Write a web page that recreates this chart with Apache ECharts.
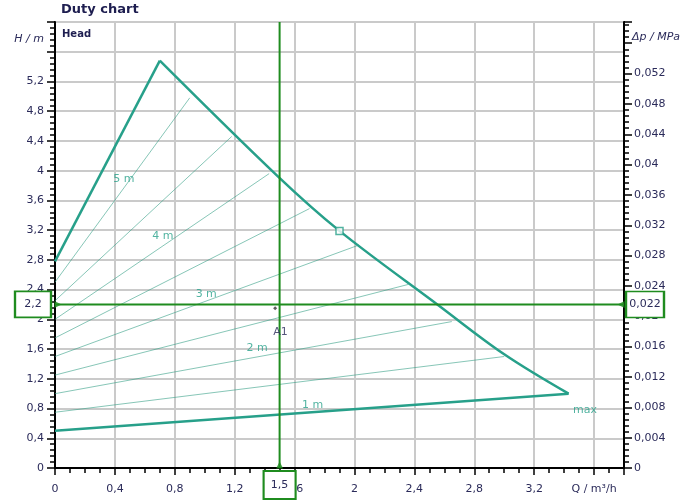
<!DOCTYPE html>
<html><head><meta charset="utf-8">
<script src="https://cdn.jsdelivr.net/npm/echarts@6/dist/echarts.min.js"></script>
<style>html,body{margin:0;padding:0;background:#fff}#c{width:687px;height:504px}</style>
</head><body><div id="c"></div>
<script>
// Max curve boundary (Q in m³/h, H in m)
const riseQ = [0, 0.70];
const riseH = [2.78, 5.48];
const fallQ = [0.70, 1.49, 1.90, 2.56, 3.00, 3.43];
const fallH = [5.48, 3.92, 3.19, 2.19, 1.53, 1.00];
const baseQ = [0, 3.43];
const baseH = [0.50, 1.00];
// thin set-point lines (start at Q = 0)
const setpointStartH = [0.75, 1.00, 1.25, 1.50, 1.75, 2.00, 2.25, 2.50];
const setpointEndQ   = [3.00, 2.65, 2.36, 2.03, 1.70, 1.43, 1.18, 0.90];
const setpointEndH   = [1.50, 1.97, 2.47, 3.00, 3.49, 3.96, 4.46, 4.98];
// curve labels
const curveLabels = ['5 m', '4 m', '3 m', '2 m', '1 m', 'max'];
const curveLabelQ = [0.46, 0.72, 1.01, 1.35, 1.72, 3.54];
const curveLabelH = [3.88, 3.12, 2.34, 1.61, 0.85, 0.78];
// square marker on max curve
const squareQ = [1.90];
const squareH = [3.19];
// operating point A1
const opName = 'A1';
const opQ = 1.5;
const opH = 2.2;
const opDp = 0.022;
// axes
const qRange = [0, 3.8];
const hRange = [0, 6.0];
const dpRange = [0, 0.0588];
const qStep = 0.4, hStep = 0.4, dpStep = 0.004;
const qNameAt = 3.6;
const qName = 'Q / m³/h';
const hName = 'H / m';
const dpName = 'Δp / MPa';
const hLabelLimit = 5.5;
const dpLabelLimit = 0.0555;
const titleText = 'Duty chart';
const headText = 'Head';

const TEAL = '#27a08a';
const TEAL_THIN = 'rgba(55,160,135,0.6)';
const GREEN = '#1f8c1f';
const TXT = '#2b2b5a';
const FONT = 'DejaVu Sans';

function fmt(v) { return String(parseFloat(v.toFixed(4))).replace('.', ','); }
const zip = (a, b) => a.map((x, i) => [x, b[i]]);

const chart = echarts.init(document.getElementById('c'), null, {renderer: 'canvas'});

const series = [];
setpointStartH.forEach((h0, i) => {
  series.push({
    type: 'line', silent: true, symbol: 'none',
    lineStyle: {color: TEAL_THIN, width: 1},
    data: [[0, h0], [setpointEndQ[i], setpointEndH[i]]],
    z: 3
  });
});
const thick = {color: TEAL, width: 2.5};
series.push({type: 'line', symbol: 'none', silent: true, lineStyle: thick, data: zip(riseQ, riseH), z: 4});
series.push({type: 'line', symbol: 'none', silent: true, smooth: 0.35, lineStyle: thick, data: zip(fallQ, fallH), z: 4});
series.push({type: 'line', symbol: 'none', silent: true, lineStyle: thick, data: zip(baseQ, baseH), z: 4});
series.push({
  type: 'scatter', symbolSize: 0, silent: true, clip: false,
  data: curveLabels.map((n, i) => ({name: n, value: [curveLabelQ[i], curveLabelH[i]]})),
  label: {show: true, position: 'inside', formatter: p => p.name, color: TEAL,
    fontFamily: FONT, fontSize: 11},
  z: 6
});
series.push({
  type: 'scatter', symbol: 'rect', symbolSize: 7, silent: true,
  itemStyle: {color: '#fff', borderColor: TEAL, borderWidth: 1.5},
  data: zip(squareQ, squareH),
  z: 6
});
// crosshair
series.push({
  type: 'line', symbol: 'none', silent: true,
  lineStyle: {color: GREEN, width: 2},
  data: [[opQ, hRange[0]], [opQ, hRange[1]]],
  z: 7,
  markPoint: {
    silent: true, symbol: 'rect',
    itemStyle: {color: '#fff', borderColor: GREEN, borderWidth: 2},
    label: {show: true, position: 'inside', color: TXT, fontFamily: FONT, fontSize: 11},
    data: [
      {coord: [opQ, hRange[0]], symbolSize: [32, 28], symbolOffset: [0, 17], value: fmt(opQ)},
      {coord: [qRange[0], opH], symbolSize: [36, 26], symbolOffset: [-22, 0], value: fmt(opH)},
      {coord: [qRange[1], opH], symbolSize: [38, 26], symbolOffset: [21, 0], value: fmt(opDp)}
    ]
  }
});
series.push({
  type: 'line', symbol: 'none', silent: true,
  lineStyle: {color: GREEN, width: 2},
  data: [[qRange[0], opH], [qRange[1], opH]],
  z: 7
});
series.push({
  type: 'scatter', symbol: 'triangle', symbolSize: [7, 7], silent: true, clip: false,
  itemStyle: {color: GREEN},
  data: [
    {value: [qRange[0], opH], symbolRotate: -90, symbolOffset: [3, 0]},
    {value: [qRange[1], opH], symbolRotate: 90, symbolOffset: [-3, 0]},
    {value: [opQ, hRange[0]], symbolRotate: 0, symbolOffset: [0, -3]}
  ],
  z: 8
});
// operating point A1
series.push({
  type: 'scatter', symbol: 'diamond', symbolSize: 4, silent: true,
  itemStyle: {color: '#333'},
  data: [[opQ - 0.03, opH - 0.05]],
  z: 8
});
series.push({
  type: 'scatter', symbolSize: 0, silent: true,
  data: [{name: opName, value: [opQ, opH]}],
  label: {show: true, position: 'inside', offset: [1, 28], formatter: p => p.name,
    color: TXT, fontFamily: FONT, fontSize: 11},
  z: 8
});

const tickStyle = {color: '#000', width: 1.5};
chart.setOption({
  animation: false,
  backgroundColor: '#fff',
  textStyle: {fontFamily: FONT},
  grid: {left: 55, right: 63, top: 22, bottom: 36, show: true, borderColor: '#000', borderWidth: 2, backgroundColor: '#fff', containLabel: false},
  xAxis: [{
    type: 'value', min: qRange[0], max: qRange[1], interval: qStep,
    axisLine: {show: true, lineStyle: {color: '#000', width: 2}},
    axisTick: {show: true, length: 7, lineStyle: tickStyle},
    minorTick: {show: true, splitNumber: 4, length: 5, lineStyle: tickStyle},
    splitLine: {show: true, lineStyle: {color: '#cacaca', width: 2}},
    axisLabel: {margin: 16, color: TXT, fontSize: 11, fontFamily: FONT, showMaxLabel: true,
      formatter: v => (Math.abs(v - qNameAt) < 1e-6 ? qName : (v > qNameAt ? '' : fmt(v)))}
  }],
  yAxis: [{
    type: 'value', min: hRange[0], max: hRange[1], interval: hStep, position: 'left',
    axisLine: {show: true, lineStyle: {color: '#000', width: 2}},
    axisTick: {show: true, length: 8, lineStyle: tickStyle},
    minorTick: {show: true, splitNumber: 5, length: 5, lineStyle: tickStyle},
    splitLine: {show: true, lineStyle: {color: '#cacaca', width: 2}},
    axisLabel: {margin: 11, color: TXT, fontSize: 11, fontFamily: FONT,
      formatter: v => (v > hLabelLimit ? '' : fmt(v))}
  }, {
    type: 'value', min: dpRange[0], max: dpRange[1], interval: dpStep, position: 'right',
    axisLine: {show: true, onZero: false, lineStyle: {color: '#000', width: 2}},
    axisTick: {show: true, length: 8, lineStyle: tickStyle},
    minorTick: {show: true, splitNumber: 5, length: 5, lineStyle: tickStyle},
    splitLine: {show: false},
    axisLabel: {margin: 10, color: TXT, fontSize: 11, fontFamily: FONT,
      formatter: v => (v > dpLabelLimit ? '' : fmt(v))}
  }],
  graphic: [
    {type: 'text', left: 61, top: 3, style: {text: titleText, fill: '#1e1e50', font: 'bold 13px "DejaVu Sans"'}},
    {type: 'text', left: 62, top: 29, style: {text: headText, fill: '#1e1e50', font: 'bold 10px "DejaVu Sans"'}},
    {type: 'text', right: 687 - 44, top: 34, style: {text: hName, fill: TXT, font: 'italic 11px "DejaVu Sans"'}},
    {type: 'text', left: 632, top: 32, style: {text: dpName, fill: TXT, font: 'italic 11px "DejaVu Sans"'}}
  ],
  series: series
});
</script>
</body></html>
